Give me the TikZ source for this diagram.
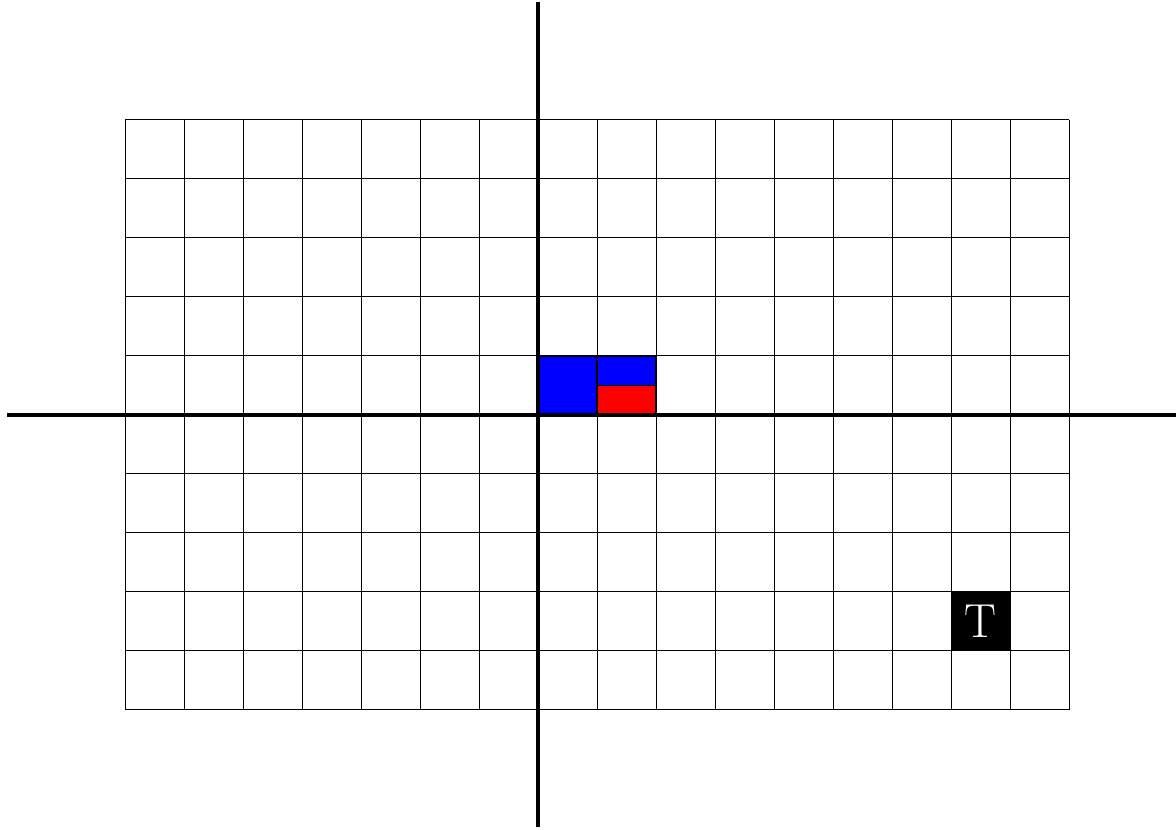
\documentclass[tikz,border=0pt]{standalone}
\begin{document}
\begin{tikzpicture}[
  gridline/.style={line width=0.55pt, draw=black},
  axisline/.style={line width=1.9pt, draw=black},
  cellbox/.style={draw=black, line width=0.7pt},
  tcell/.style={fill=black, draw=black, minimum size=1cm, inner sep=0pt, text=white, font=\fontsize{23}{27}\selectfont}
]
\useasboundingbox (-9.12,-7.02) rectangle (10.81,7.03);
\draw[gridline] (-7,-5) grid (9,5);
\fill[blue] (0,0) rectangle (2,1);
\draw[cellbox, fill=blue] (0,0) rectangle (1,1);
\draw[cellbox, fill=blue] (1,0.5) rectangle (2,1);
\draw[cellbox, fill=red] (1,0) rectangle (2,0.5);
\node[tcell] (t) at (7.5,-3.5) {T};
\coordinate (xl) at (-9,0);
\coordinate (xr) at (11,0);
\coordinate (yb) at (0,-6.99);
\coordinate (yt) at (0,6.99);
\draw[axisline] (xl) -- (xr);
\draw[axisline] (yb) -- (yt);
\end{tikzpicture}
\end{document}
